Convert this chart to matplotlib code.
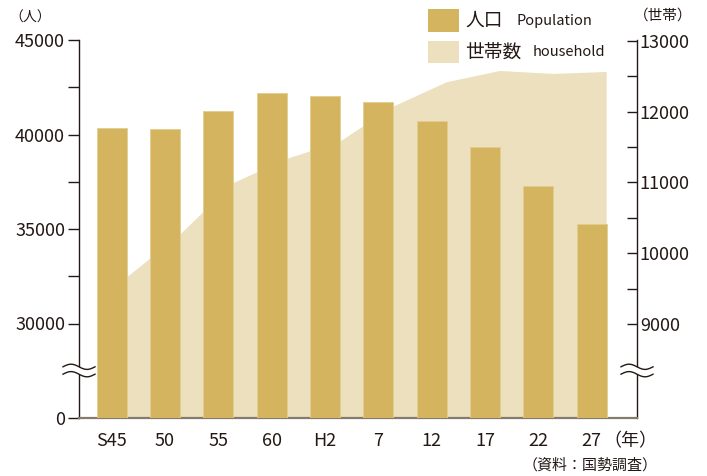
import numpy as np
import matplotlib
matplotlib.use("Agg")
import matplotlib.pyplot as plt
from matplotlib.patches import Rectangle

plt.rcParams["font.family"] = ["Noto Sans CJK JP", "DejaVu Sans"]

# census years (Showa 45 ... Heisei 27)
years = ["S45", "50", "55", "60", "H2", "7", "12", "17", "22", "27"]
population = [40340, 40290, 41220, 42200, 42050, 41740, 40730, 39350, 37260, 35280]
households = [9657, 10260, 10989, 11331, 11575, 12069, 12413, 12573, 12531, 12559]

pop_ticks = [0, 30000, 35000, 40000, 45000]
pop_minor = [32500, 37500, 42500]
hh_ticks = [9000, 10000, 11000, 12000, 13000]
hh_minor = [9500, 10500, 11500, 12500]

INK = "#231815"
BAR = "#d4b45e"
AREA = "#ede0be"
W, H = 707, 476


def fig_xy(x, y):
    return x / W, 1 - y / H


def broken_fwd(v):
    v = np.asarray(v, dtype=float)
    return np.where(v < 30000, v / 6.0, v - 25000.0)


def broken_inv(y):
    y = np.asarray(y, dtype=float)
    return np.where(y < 5000, y * 6.0, y + 25000.0)


fig = plt.figure(figsize=(W / 100, H / 100), dpi=100)
ax = fig.add_axes([79 / W, 1 - 418 / H, 558 / W, 378 / H])
ax2 = ax.twinx()
ax.set_zorder(ax2.get_zorder() + 1)
ax.patch.set_visible(False)

x = np.arange(len(years), dtype=float)
bar_w = 0.5625

# households: light area behind the bars, points at right edge of each bar
ax2.fill_between(x + bar_w / 2, households, 0, color=AREA, linewidth=0)
ax2.set_ylim(7674, 13010)
ax2.set_yticks(hh_ticks)
ax2.set_yticks(hh_minor, minor=True)
ax2.tick_params(axis="y", which="both", direction="in", length=7, width=1.0,
                color=INK, labelsize=13, labelcolor=INK, pad=2)

ax.bar(x, population, width=bar_w, color=BAR, edgecolor="#e2cd8f", linewidth=0.6, zorder=3)
ax.set_yscale("function", functions=(broken_fwd, broken_inv))
ax.set_ylim(0, 45000)
ax.set_yticks(pop_ticks)
ax.set_yticks(pop_minor, minor=True)
ax.yaxis.set_minor_formatter(plt.NullFormatter())
ax.yaxis.set_major_formatter(plt.FuncFormatter(lambda v, p: f"{v:.0f}"))
ax.tick_params(axis="y", which="both", direction="out", length=8, width=1.0,
               color=INK, labelsize=13, labelcolor=INK, pad=2)
ax.set_xlim(-0.613, 9.85)
ax.set_xticks(x, years)
ax.tick_params(axis="x", length=0, labelsize=13, labelcolor=INK, pad=10)

for s in ("top", "right"):
    ax.spines[s].set_visible(False)
for s in ("top", "left", "bottom"):
    ax2.spines[s].set_visible(False)
ax.spines["left"].set_color(INK)
ax.spines["left"].set_linewidth(1.0)
ax2.spines["right"].set_color(INK)
ax2.spines["right"].set_linewidth(1.0)
ax.spines["bottom"].set_color("#857b6c")
ax.spines["bottom"].set_linewidth(1.6)

# axis break marks
t = np.linspace(0, 1, 60)
dx = (t - 0.5) * 32 / 558
wave = 2.6 * np.sin(2 * np.pi * t) / 378
yc = (418 - 370.5) / 378
for xc in (0.0, 1.0):
    upper = yc + 3.7 / 378 + wave
    lower = yc - 3.7 / 378 + wave
    ax.fill_between(xc + dx, lower, upper, color="white", transform=ax.transAxes,
                    clip_on=False, zorder=10, linewidth=0)
    ax.plot(xc + dx, upper, color=INK, lw=1.0, transform=ax.transAxes, clip_on=False, zorder=11)
    ax.plot(xc + dx, lower, color=INK, lw=1.0, transform=ax.transAxes, clip_on=False, zorder=11)

# legend
for (y0, y1), col in (((9.3, 32.3), BAR), ((40.7, 63.3), AREA)):
    fx, fy = fig_xy(428.3, y1)
    fig.patches.append(Rectangle((fx, fy), 31 / W, (y1 - y0) / H, transform=fig.transFigure,
                                 facecolor=col, edgecolor="none"))
fig.text(*fig_xy(465, 20.5), "人口", fontsize=13.5, color=INK, va="center", ha="left")
fig.text(*fig_xy(516.5, 20.5), "Population", fontsize=10.5, color=INK, va="center", ha="left")
fig.text(*fig_xy(465, 52), "世帯数", fontsize=13.5, color=INK, va="center", ha="left")
fig.text(*fig_xy(533, 52), "household", fontsize=10.5, color=INK, va="center", ha="left")

# unit labels
fig.text(*fig_xy(30, 18), "（人）", fontsize=10, color=INK, va="center", ha="center")
fig.text(*fig_xy(663, 16), "（世帯）", fontsize=10.5, color=INK, va="center", ha="center")
fig.text(*fig_xy(630.5, 441.5), "（年）", fontsize=13, color=INK, va="center", ha="center")
fig.text(*fig_xy(590, 465), "（資料：国勢調査）", fontsize=10.8, color=INK, va="center", ha="center")

fig.savefig("out.png", dpi=100)
